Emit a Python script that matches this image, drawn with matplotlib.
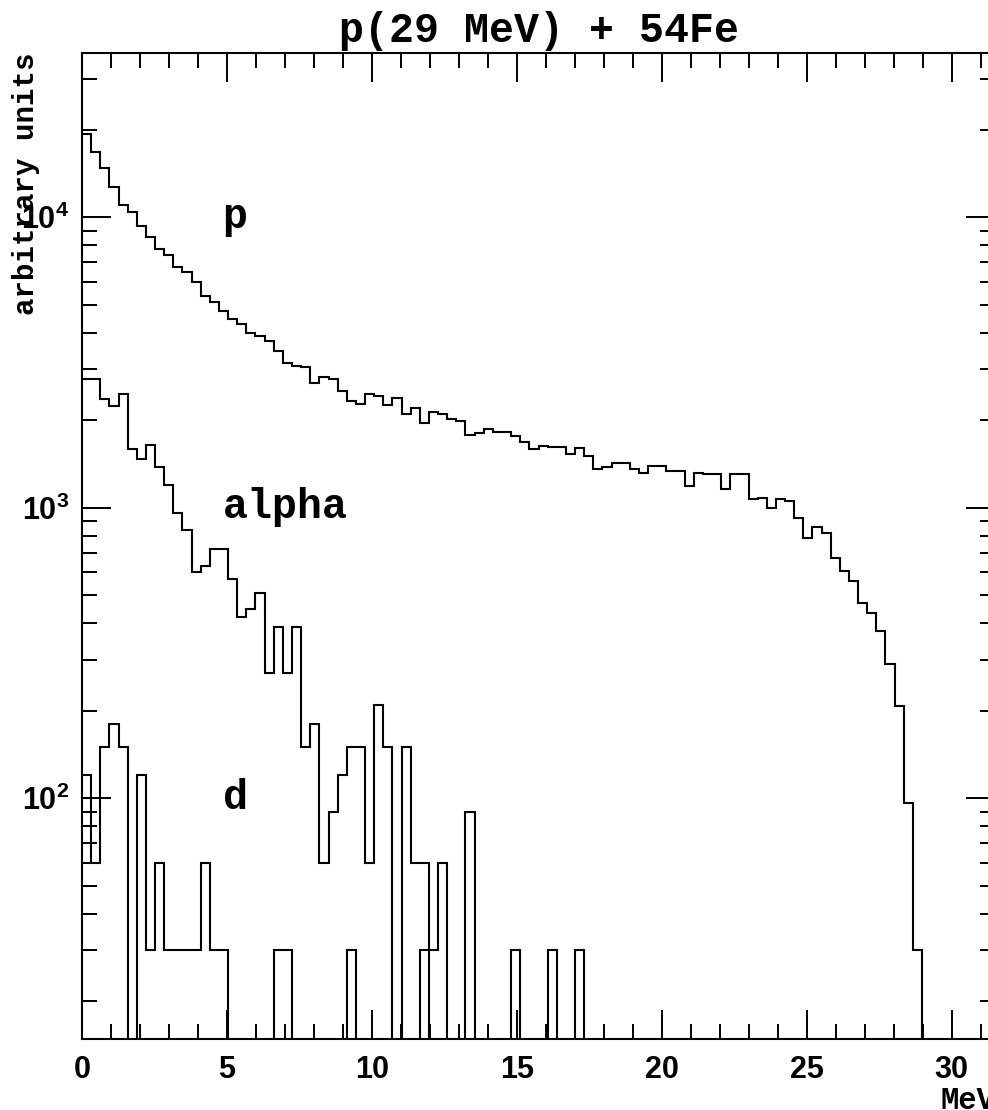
import matplotlib.pyplot as plt
import matplotlib.ticker as ticker
import numpy as np

# dados: 100 bins de 0 a 31.5 MeV
n_bins = 100
e_min, e_max = 0.0, 31.5

p_counts = [19310, 16820, 14750, 12690, 11000, 10430, 9360, 8550, 7760, 7400,
            6730, 6470, 5970, 5360, 5100, 4770, 4460, 4290, 4000, 3910,
            3740, 3470, 3160, 3085, 3053, 2700, 2813, 2775, 2523, 2336,
            2276, 2459, 2431, 2255, 2393, 2099, 2212, 1963, 2132, 2104,
            2021, 1989, 1785, 1814, 1863, 1820, 1820, 1771, 1680, 1590,
            1632, 1615, 1615, 1528, 1610, 1508, 1356, 1378, 1429, 1429,
            1356, 1321, 1393, 1393, 1338, 1338, 1189, 1321, 1307, 1307,
            1158, 1307, 1307, 1070, 1081, 1001, 1070, 1055, 920, 789,
            861, 817, 672, 604, 558, 469, 435, 376, 291, 207,
            96, 30, 0, 0, 0, 0, 0, 0, 0, 0]

alpha_counts = [2770, 2770, 2360, 2240, 2460, 1590, 1470, 1650, 1380, 1200,
                960, 840, 600, 630, 720, 720, 570, 420, 450, 510,
                270, 390, 270, 390, 150, 180, 60, 90, 120, 150,
                150, 60, 210, 150, 0, 150, 60, 60, 30, 60,
                0, 0, 90] + [0] * 57

d_counts = [120, 60, 150, 180, 150, 0, 120, 30, 60, 30,
            30, 30, 30, 60, 30, 30, 0, 0, 0, 0,
            0, 30, 30, 0, 0, 0, 0, 0, 0, 30,
            0, 0, 0, 0, 0, 0, 0, 30, 0, 0,
            0, 0, 0, 0, 0, 0, 0, 30, 0, 0,
            0, 30, 0, 0, 30] + [0] * 45

rotulos = ['p', 'alpha', 'd']
rotulos_y = [9200, 920, 92]

edges = np.linspace(e_min, e_max, n_bins + 1)

plt.rcParams['mathtext.default'] = 'regular'

fig = plt.figure(figsize=(9.88, 11.10), dpi=100)
ax = fig.add_axes([0.0830, 0.0637, 0.9241, 0.8888])

for contagens in [p_counts, alpha_counts, d_counts]:
    ax.stairs(contagens, edges, baseline=None, color='black', linewidth=1.5)

ax.set_yscale('log', nonpositive='clip')
ax.set_xlim(e_min, e_max)
ax.set_ylim(14.8, 36870)

# eixos estilo ROOT
for s in ax.spines.values():
    s.set_linewidth(1.5)

ax.xaxis.set_major_locator(ticker.MultipleLocator(5))
ax.xaxis.set_minor_locator(ticker.MultipleLocator(1))
ax.yaxis.set_major_locator(ticker.FixedLocator([100, 1000, 10000]))
ax.yaxis.set_major_formatter(ticker.FixedFormatter(['$10^{2}$', '$10^{3}$', '$10^{4}$']))
ax.yaxis.set_minor_locator(ticker.LogLocator(base=10, subs=np.arange(2, 10)))
ax.yaxis.set_minor_formatter(ticker.NullFormatter())

ax.tick_params(which='both', direction='in', top=True, right=True, width=1.4)
ax.tick_params(which='major', length=21)
ax.tick_params(which='minor', length=10.5)
ax.tick_params(axis='x', which='major', pad=11)
ax.tick_params(axis='y', which='major', pad=9)
for lab in ax.get_xticklabels() + ax.get_yticklabels():
    lab.set_fontfamily('Liberation Sans')
    lab.set_fontweight('bold')
    lab.set_fontsize(22)

fonte_mono = dict(family='Liberation Mono', weight='bold')

ax.set_title('p(29 MeV) + 54Fe', fontsize=30, pad=8, **fonte_mono)
ax.set_xlabel('MeV', fontsize=22, loc='right', **fonte_mono)
ax.xaxis.set_label_coords(1.0, -0.047)
ax.xaxis.label.set_verticalalignment('top')
ax.set_ylabel('arbitrary units', fontsize=21, loc='top', **fonte_mono)
ax.yaxis.set_label_coords(-0.046, 1.0)

for txt, yv in zip(rotulos, rotulos_y):
    ax.text(4.85, yv, txt, fontsize=30, ha='left', va='baseline', **fonte_mono)

plt.savefig('out.png', dpi=100)
